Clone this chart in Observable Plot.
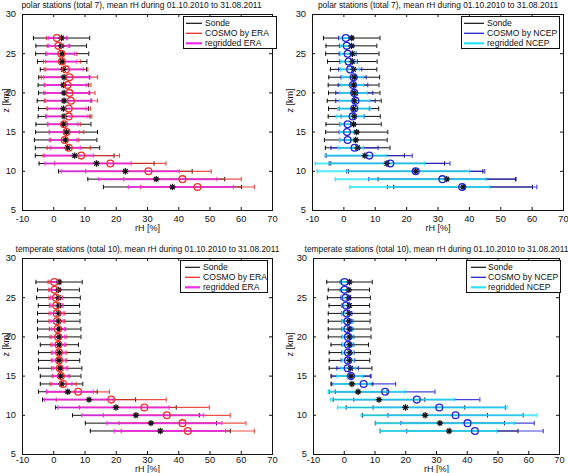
<!DOCTYPE html>
<html><head><meta charset="utf-8">
<script src="https://cdn.jsdelivr.net/npm/d3@7"></script>
<script src="https://cdn.jsdelivr.net/npm/@observablehq/plot@0.6"></script>
<style>
body{margin:0;background:#fff;font-family:"Liberation Sans",Arial,Helvetica,sans-serif;}
#fig{position:relative;width:568px;height:473px;overflow:hidden;background:#fff;}
.panel{position:absolute;}
.legend{position:absolute;}
</style></head><body><div id="fig"></div>
<script>
// altitude levels [km]
const z = [27,26,25,24,23,22,21,20,19,18,17,16,15,14,13,12,11,10,9,8];
const xTicks = [-10,0,10,20,30,40,50,60,70];
const yTicks = [5,10,15,20,25,30];

// polar stations
const sondePolarMean = [2.5,2.4,2.7,2.7,3.1,3.3,3.1,3.3,3.3,3.1,3.3,3.1,4.1,3.8,4.4,6.7,13.7,22.9,32.8,38.0];
const sondePolarStd  = [9.0,8.1,8.5,7.9,7.4,8.1,8.1,8.2,8.6,8.0,8.3,8.8,9.9,10.0,10.3,12.6,18.4,21.4,21.9,22.1];
const cosmoEraPolarMean = [1.0,1.5,2.4,2.6,3.9,5.0,4.4,5.0,5.5,4.8,4.8,3.3,4.1,3.5,4.8,8.8,18.1,30.3,41.2,46.0];
const cosmoEraPolarStd  = [3.3,3.6,5.0,5.9,7.0,9.0,7.5,8.2,8.5,7.0,7.4,5.2,5.5,4.5,6.9,12.2,17.8,20.1,18.8,18.2];
const regridEraPolarMean = [1.2,1.6,2.2,2.4,3.4,4.2,3.8,4.2,4.8,4.2,4.3,2.9,3.4,3.0,3.7,4.9,11.0,21.3,33.3,40.7];
const regridEraPolarStd  = [2.8,3.2,4.4,5.0,6.0,7.4,6.6,7.0,7.4,6.2,6.6,4.8,4.8,4.4,4.8,7.8,13.8,18.9,18.9,16.8];
const cosmoNcepPolarMean = [0.6,0.9,1.2,1.5,2.0,3.1,2.9,3.3,3.7,3.3,2.8,1.2,1.0,1.2,3.4,8.1,14.8,22.9,31.4,37.7];
const cosmoNcepPolarStd  = [2.3,2.3,2.7,2.8,3.7,4.0,4.7,5.9,6.3,4.8,3.7,2.5,2.5,2.5,7.5,13.7,19.0,22.0,23.5,23.8];
const regridNcepPolarMean = [0.5,0.8,1.1,1.4,1.9,2.8,2.7,3.1,3.4,3.2,2.0,1.0,0.9,1.0,2.2,3.8,8.3,15.8,21.3,24.2];
const regridNcepPolarStd  = [1.8,1.9,2.2,2.4,3.0,3.4,3.6,4.4,4.8,5.2,4.4,2.2,2.2,2.4,4.0,9.7,17.4,24.3,24.0,22.3];

// temperate stations
const sondeTempMean = [1.7,1.5,1.5,1.65,1.6,1.6,1.75,1.75,1.8,1.8,1.7,2.05,2.2,2.5,4.5,11.3,19.9,26.3,31.1,34.1];
const sondeTempStd  = [7.4,6.7,7.0,6.6,6.8,6.8,6.95,6.95,6.1,6.7,6.6,6.95,6.5,6.8,9.4,14.9,19.3,20.3,21.0,22.4];
const cosmoEraTempMean = [0.2,0.3,0.7,0.8,1.0,1.0,1.2,1.4,1.5,1.7,1.7,1.9,2.3,3.0,7.8,18.4,29.0,36.2,41.2,42.9];
const cosmoEraTempStd  = [2.0,1.9,2.2,2.2,2.5,2.5,2.6,2.6,2.4,2.5,2.5,2.6,2.8,4.2,10.0,17.6,20.8,20.3,20.3,21.3];
const regridEraTempMean = [0.3,0.4,0.8,0.9,1.1,1.1,1.3,1.4,1.5,1.7,1.7,1.9,2.2,2.6,5.2,8.0,19.1,28.5,35.4,37.2];
const regridEraTempStd  = [1.6,1.6,1.8,1.8,2.0,2.0,2.1,2.1,2.0,2.0,2.1,2.1,2.4,3.2,7.5,11.0,17.8,19.5,18.4,17.8];
const cosmoNcepTempMean = [0.1,0.1,0.4,0.6,0.8,1.0,1.0,1.2,1.2,1.2,1.2,1.1,2.2,6.3,13.3,23.6,30.9,36.2,40.1,42.5];
const cosmoNcepTempStd  = [1.4,1.4,1.5,1.5,1.7,1.8,1.8,1.9,1.9,2.0,2.2,3.5,6.3,10.4,16.2,20.5,21.5,22.0,21.7,22.2];
const regridNcepTempMean = [0.1,0.2,0.4,0.6,0.8,0.9,1.0,1.1,1.1,1.2,1.2,1.3,1.8,2.5,7.2,15.7,25.4,34.1,32.8,30.6];
const regridNcepTempStd  = [1.2,1.2,1.3,1.3,1.5,1.6,1.6,1.7,1.7,1.8,1.9,2.4,4.2,6.0,12.4,20.1,27.6,28.6,22.5,19.0];

const titlePolar = "polar stations (total 7), mean rH during 01.10.2010 to 31.08.2011";
const titleTemp = "temperate stations (total 10), mean rH during 01.10.2010 to 31.08.2011";
const legendEra = ["Sonde", "COSMO by ERA", "regridded ERA"];
const legendNcep = ["Sonde", "COSMO by NCEP", "regridded NCEP"];
const xLabel = "rH [%]";
const yLabel = "z [km]";

const FONT = "'Liberation Sans', Arial, Helvetica, sans-serif";
const RED = "#e8322a", MAGENTA = "#f02cec", BLUE = "#2424d0", CYAN = "#28e4f4";

const barSymbol = {draw(ctx, size) {const r = Math.sqrt(size / Math.PI); ctx.moveTo(0, -r); ctx.lineTo(0, r);}};
const starSymbol = {draw(ctx, size) {
  const r = Math.sqrt(size / Math.PI), d = r * 0.7071;
  ctx.moveTo(-r, 0); ctx.lineTo(r, 0); ctx.moveTo(0, -r); ctx.lineTo(0, r);
  ctx.moveTo(-d, -d); ctx.lineTo(d, d); ctx.moveTo(-d, d); ctx.lineTo(d, -d);
}};

function errMarks(rows, m, s, color, width, opacity) {
  const lo = d => d[m] - d[s], hi = d => d[m] + d[s];
  return [
    Plot.ruleY(rows, {y: "z", x1: lo, x2: hi, stroke: color, strokeWidth: width, strokeOpacity: opacity}),
    Plot.dot(rows, {x: lo, y: "z", symbol: barSymbol, r: 2.2, fill: "none", stroke: color, strokeWidth: Math.min(width, 1.3), strokeOpacity: opacity}),
    Plot.dot(rows, {x: hi, y: "z", symbol: barSymbol, r: 2.2, fill: "none", stroke: color, strokeWidth: Math.min(width, 1.3), strokeOpacity: opacity})
  ];
}

function panel(cfg) {
  const rows = z.map((zz, i) => ({
    z: zz,
    sm: cfg.sonde[0][i], ss: cfg.sonde[1][i],
    cm: cfg.cosmo[0][i], cs: cfg.cosmo[1][i],
    rm: cfg.regrid[0][i], rs: cfg.regrid[1][i]
  }));
  const pw = cfg.w - cfg.mL - cfg.mR, ph = cfg.h - cfg.mT - cfg.mB;
  const svg = Plot.plot({
    width: cfg.w, height: cfg.h,
    marginLeft: cfg.mL, marginRight: cfg.mR, marginTop: cfg.mT, marginBottom: cfg.mB,
    x: {domain: [-10, 70]},
    y: {domain: [5, 30]},
    style: {fontFamily: FONT, fontSize: "9.3px", color: "#111", background: "transparent", overflow: "visible"},
    marks: [
      ...errMarks(rows, "sm", "ss", "#111", 1, 1),
      ...errMarks(rows, "cm", "cs", cfg.cColor, 1.2, 0.85),
      ...errMarks(rows, "rm", "rs", cfg.rColor, 2, 0.8),
      Plot.dot(rows, {x: "sm", y: "z", symbol: starSymbol, r: 3.2, fill: "none", stroke: "#111", strokeWidth: 1.2}),
      Plot.dot(rows, {x: "cm", y: "z", r: 3.4, fill: "none", stroke: cfg.cColor, strokeWidth: 1.3}),
      Plot.tickX(xTicks, {x: d => d, insetTop: ph - 3, stroke: "#111"}),
      Plot.tickX(xTicks, {x: d => d, insetBottom: ph - 3, stroke: "#111"}),
      Plot.tickY(yTicks, {y: d => d, insetRight: pw - 3, stroke: "#111"}),
      Plot.tickY(yTicks, {y: d => d, insetLeft: pw - 3, stroke: "#111"}),
      Plot.axisX(xTicks, {anchor: "bottom", tickSize: 0, tickPadding: cfg.xPad, label: null, tickFormat: d => String(d)}),
      Plot.axisY(yTicks, {anchor: "left", tickSize: 0, tickPadding: 6.5, label: null, tickFormat: d => String(d)}),
      Plot.frame({stroke: "#111", strokeWidth: 1}),
      Plot.text([cfg.title], {text: d => d, frameAnchor: "top", dy: -9, dx: cfg.tdx || 0, fontSize: 8.4, lineAnchor: "middle"}),
      Plot.text([xLabel], {text: d => d, frameAnchor: "bottom", dy: cfg.xLabDy, fontSize: 9, lineAnchor: "middle"}),
      Plot.text([yLabel], {text: d => d, frameAnchor: "left", dx: -cfg.mL + 6, rotate: -90, fontSize: 9, lineAnchor: "middle"})
    ]
  });
  svg.classList.add("panel");
  svg.style.left = cfg.left + "px";
  svg.style.top = cfg.top + "px";
  document.getElementById("fig").appendChild(svg);

  // legend box
  const L = cfg.leg;
  const colors = ["#111", cfg.cColor, cfg.rColor];
  const widths = [1.2, 1.3, 2.2];
  let inner = `<rect x="0.5" y="0.5" width="${L.w - 1}" height="${L.h - 1}" fill="#fff" stroke="#111" stroke-width="1"/>`;
  cfg.labels.forEach((t, i) => {
    const yy = 7.3 + i * 10;
    inner += `<line x1="${L.lx1}" x2="${L.lx2}" y1="${yy}" y2="${yy}" stroke="${colors[i]}" stroke-width="${widths[i]}"/>`;
    inner += `<text x="${L.tx}" y="${yy}" dy="0.35em" font-size="8.6" font-family="${FONT.replace(/'/g, "")}" fill="#111">${t}</text>`;
  });
  const leg = document.createElementNS("http://www.w3.org/2000/svg", "svg");
  leg.setAttribute("width", L.w); leg.setAttribute("height", L.h);
  leg.setAttribute("class", "legend");
  leg.style.left = L.x + "px"; leg.style.top = L.y + "px";
  leg.innerHTML = inner;
  document.getElementById("fig").appendChild(leg);
}

panel({left: 0, top: 0, w: 284, h: 236, mL: 22, mR: 12, mT: 14, mB: 26, xPad: 5, xLabDy: 18, tdx: -6,
  title: titlePolar, labels: legendEra, cColor: RED, rColor: MAGENTA,
  sonde: [sondePolarMean, sondePolarStd], cosmo: [cosmoEraPolarMean, cosmoEraPolarStd], regrid: [regridEraPolarMean, regridEraPolarStd],
  leg: {x: 183, y: 16, w: 94, h: 33, lx1: 3, lx2: 19, tx: 22}});
panel({left: 284, top: 0, w: 284, h: 236, mL: 28, mR: 5, mT: 14, mB: 26, xPad: 5, xLabDy: 18,
  title: titlePolar, labels: legendNcep, cColor: BLUE, rColor: CYAN,
  sonde: [sondePolarMean, sondePolarStd], cosmo: [cosmoNcepPolarMean, cosmoNcepPolarStd], regrid: [regridNcepPolarMean, regridNcepPolarStd],
  leg: {x: 461, y: 16, w: 99, h: 33, lx1: 3, lx2: 23, tx: 26}});
panel({left: 0, top: 236, w: 284, h: 237, mL: 22, mR: 12, mT: 22, mB: 19, xPad: 1.5, xLabDy: 15,
  title: titleTemp, labels: legendEra, cColor: RED, rColor: MAGENTA,
  sonde: [sondeTempMean, sondeTempStd], cosmo: [cosmoEraTempMean, cosmoEraTempStd], regrid: [regridEraTempMean, regridEraTempStd],
  leg: {x: 180, y: 260, w: 88, h: 33, lx1: 5, lx2: 20, tx: 23}});
panel({left: 284, top: 236, w: 284, h: 237, mL: 29, mR: 9, mT: 22, mB: 19, xPad: 1.5, xLabDy: 15,
  title: titleTemp, labels: legendNcep, cColor: BLUE, rColor: CYAN,
  sonde: [sondeTempMean, sondeTempStd], cosmo: [cosmoNcepTempMean, cosmoNcepTempStd], regrid: [regridNcepTempMean, regridNcepTempStd],
  leg: {x: 466, y: 260, w: 95, h: 33, lx1: 5, lx2: 20, tx: 22}});
</script>
</body></html>
